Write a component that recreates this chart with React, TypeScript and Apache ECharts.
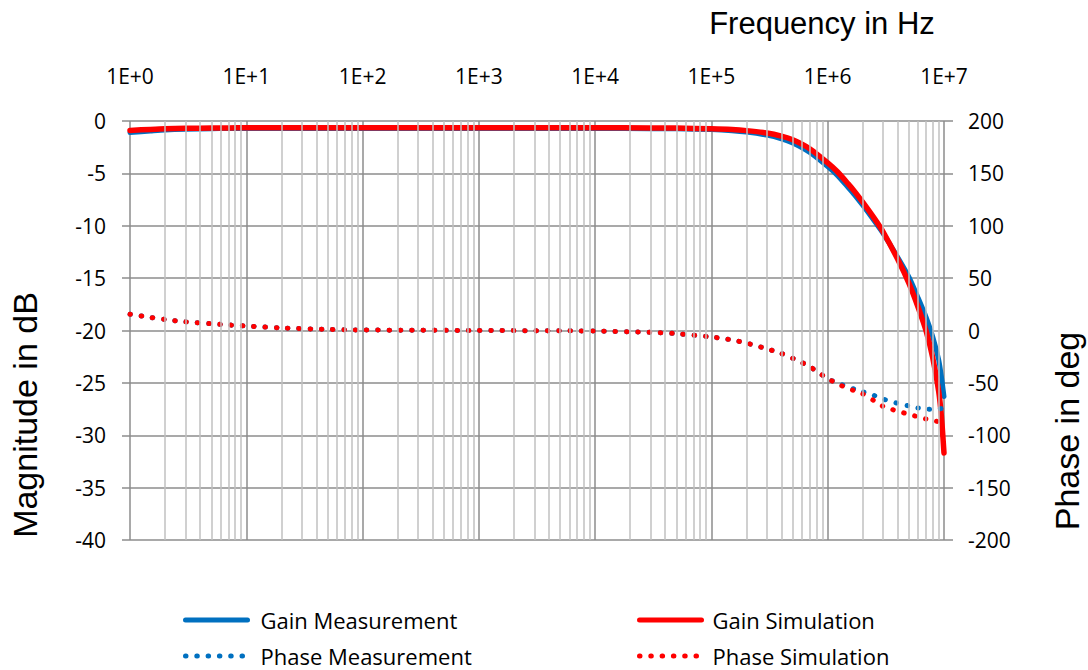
import React, { useEffect, useRef } from "react";
import * as echarts from "echarts";

// Frequencies in Hz
const freq = [1, 1.5, 2, 3, 5, 7, 10, 20, 50, 100, 1000, 10000, 30000, 50000, 100000, 150000, 200000, 300000, 400000, 500000, 700000, 1e6, 1.2e6, 1.5e6, 1.7e6, 2e6, 2.5e6, 3e6, 4e6, 5e6, 6e6, 7e6, 8e6, 9e6, 9.5e6, 1e7];

// Magnitude in dB
const gainMeasurement = [-1.1, -0.95, -0.85, -0.78, -0.74, -0.72, -0.72, -0.72, -0.72, -0.72, -0.72, -0.72, -0.73, -0.75, -0.82, -0.92, -1.05, -1.35, -1.7, -2.1, -3.0, -4.35, -5.15, -6.35, -7.05, -8.05, -9.5, -10.75, -13.0, -14.9, -16.9, -18.7, -20.6, -22.8, -24.4, -26.3];
const gainSimulation = [-0.9, -0.8, -0.74, -0.7, -0.67, -0.66, -0.65, -0.65, -0.65, -0.65, -0.65, -0.65, -0.66, -0.68, -0.75, -0.82, -0.92, -1.15, -1.45, -1.8, -2.65, -4.0, -4.8, -6.0, -6.72, -7.75, -9.25, -10.6, -13.2, -15.5, -17.8, -20.0, -22.6, -25.8, -28.2, -31.7];

// Phase in deg
const phaseMeasurement = [15.5, 12.5, 10.5, 8.3, 6.5, 5.3, 4.3, 2.5, 1.0, 0.5, 0, -0.5, -1.8, -3.0, -6.2, -9, -12, -17.5, -22, -26.5, -34.5, -46, -50, -54, -56, -58.5, -62, -65.5, -69.5, -72, -74, -75, -75.3, -75, -74.5, -74];
const phaseSimulation = [15.5, 12.5, 10.5, 8.3, 6.5, 5.3, 4.3, 2.5, 1.0, 0.5, 0, -0.5, -1.8, -3.0, -6.2, -9, -12, -17.5, -22, -26.5, -34.5, -46, -50.5, -55.5, -57.5, -60.5, -67, -72.5, -77, -80, -82.5, -84.5, -86, -87, -87.3, -87.5];

const seriesNames = ["Gain Measurement", "Gain Simulation", "Phase Measurement", "Phase Simulation"];

const BLUE = "#0070C0";
const RED = "#FF0000";
const LABEL_FONT = "'Open Sans', sans-serif";
const TITLE_FONT = "'Liberation Sans', Arial, sans-serif";

function pairs(vals: number[]) {
  return freq.map((f, i) => [f, vals[i]]);
}

// minor grid positions 2..9 within each decade
function minorGrid() {
  const out: { xAxis: number }[] = [];
  for (let d = 0; d < 7; d++) {
    for (let k = 2; k <= 9; k++) out.push({ xAxis: k * Math.pow(10, d) });
  }
  return out;
}

function legendCfg(names: string[], left: number, textPad: number) {
  return {
    data: names,
    orient: "vertical",
    left,
    top: 609,
    padding: 0,
    itemWidth: 62,
    itemHeight: 14,
    itemGap: 14,
    lineStyle: { width: 5 },
    itemStyle: { opacity: 0 },
    textStyle: { fontFamily: LABEL_FONT, fontSize: 22, color: "#000", lineHeight: 22, padding: [0, 0, 0, textPad] },
  };
}

function lineSeries(name: string, vals: number[], axis: number, color: string, width: number, dash?: number[]) {
  return {
    name,
    type: "line",
    yAxisIndex: axis,
    data: pairs(vals),
    symbol: "none",
    smooth: 0.25,
    lineStyle: dash ? { color, width, type: dash, cap: "round" } : { color, width, cap: "round" },
    itemStyle: { color },
  };
}

export default function App() {
  const ref = useRef<HTMLDivElement>(null);
  useEffect(() => {
    document.body.style.margin = "0";
    if (!ref.current) return;
    const chart = echarts.init(ref.current, undefined, { renderer: "svg" });
    const dotted = [0.5, 10.8];
    chart.setOption({
      animation: false,
      backgroundColor: "#ffffff",
      grid: { left: 130, right: 144, top: 121, bottom: 130, containLabel: false },
      xAxis: {
        type: "log",
        logBase: 10,
        min: 1,
        max: 1e7,
        position: "top",
        axisLine: { show: false },
        axisTick: { show: false },
        axisLabel: {
          margin: 35,
          color: "#000",
          fontFamily: LABEL_FONT,
          fontSize: 21,
          formatter: (v: number) => "1E+" + Math.round(Math.log10(v)),
        },
        splitLine: { show: true, lineStyle: { color: "#8c8c8c", width: 1.5 } },
      },
      yAxis: [
        {
          type: "value",
          min: -40,
          max: 0,
          interval: 5,
          position: "left",
          axisLine: { show: false },
          axisTick: { show: true, length: 8, lineStyle: { color: "#8c8c8c", width: 1.5 } },
          axisLabel: { margin: 24, color: "#000", fontFamily: LABEL_FONT, fontSize: 21 },
          splitLine: { show: true, lineStyle: { color: "#8c8c8c", width: 1.5 } },
        },
        {
          type: "value",
          min: -200,
          max: 200,
          interval: 50,
          position: "right",
          axisLine: { show: false },
          axisTick: { show: true, length: 9, lineStyle: { color: "#8c8c8c", width: 1.5 } },
          axisLabel: { margin: 24, color: "#000", fontFamily: LABEL_FONT, fontSize: 21 },
          splitLine: { show: false },
        },
      ],
      legend: [
        legendCfg([seriesNames[0], seriesNames[2]], 183, 8),
        legendCfg([seriesNames[1], seriesNames[3]], 637, 6),
      ],
      series: [
        {
          name: "grid",
          type: "line",
          data: [],
          silent: true,
          markLine: {
            silent: true,
            symbol: ["none", "none"],
            label: { show: false },
            lineStyle: { color: "#c0c0c0", width: 1.5, type: "solid" },
            data: minorGrid(),
          },
        },
        lineSeries(seriesNames[0], gainMeasurement, 0, BLUE, 5),
        lineSeries(seriesNames[1], gainSimulation, 0, RED, 5.5),
        lineSeries(seriesNames[2], phaseMeasurement, 1, BLUE, 5, dotted),
        lineSeries(seriesNames[3], phaseSimulation, 1, RED, 5, dotted),
      ],
      graphic: [
        {
          type: "text",
          x: 822,
          y: 23,
          style: { text: "Frequency in Hz", fontFamily: TITLE_FONT, fontSize: 31, fill: "#000", textAlign: "center", textVerticalAlign: "middle" },
        },
        {
          type: "text",
          x: 25,
          y: 415,
          rotation: Math.PI / 2,
          style: { text: "Magnitude in dB", fontFamily: TITLE_FONT, fontSize: 34, fill: "#000", textAlign: "center", textVerticalAlign: "middle" },
        },
        {
          type: "text",
          x: 1067,
          y: 431,
          rotation: Math.PI / 2,
          style: { text: "Phase in deg", fontFamily: TITLE_FONT, fontSize: 34, fill: "#000", textAlign: "center", textVerticalAlign: "middle" },
        },
      ],
    });
    return () => chart.dispose();
  }, []);
  return <div ref={ref} style={{ width: 1088, height: 670 }} />;
}
